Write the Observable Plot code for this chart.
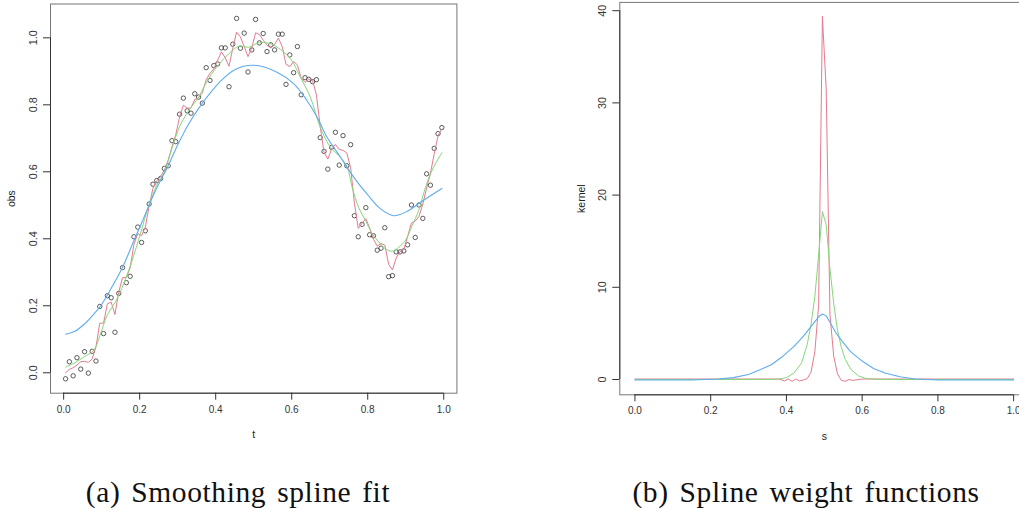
<!DOCTYPE html>
<html>
<head>
<meta charset="utf-8">
<script src="https://cdn.jsdelivr.net/npm/d3@7"></script>
<script src="https://cdn.jsdelivr.net/npm/@observablehq/plot@0.6"></script>
<style>
  html, body { margin: 0; padding: 0; background: #fff; }
  body { width: 1019px; height: 510px; overflow: hidden; position: relative; font-family: "Liberation Sans", Arial, sans-serif; }
  .panel { position: absolute; top: 0; width: 470px; height: 445px; }
  .panel svg { max-width: none !important; width: 470px; height: 445px; }
  .cap { position: absolute; top: 476px; height: 32px; line-height: 32px; text-align: center;
         font-family: "Liberation Serif", "Times New Roman", serif; font-size: 29.5px; color: #111;
         white-space: nowrap; letter-spacing: 0.6px; word-spacing: 3px; }
</style>
</head>
<body>
<div id="pa" class="panel" style="left:0px"></div>
<div id="pb" class="panel" style="left:570px"></div>
<div class="cap" style="left:38px;width:400px">(a) Smoothing spline fit</div>
<div class="cap" style="left:606px;width:400px">(b) Spline weight functions</div>
<script>
// ---------- Panel (a): observations and three smoothing-spline fits ----------
const tObs = [0.005,0.015,0.025,0.035,0.045,0.055,0.065,0.075,0.085,0.095,
  0.105,0.115,0.125,0.135,0.145,0.155,0.165,0.175,0.185,0.195,
  0.205,0.215,0.225,0.235,0.245,0.255,0.265,0.275,0.285,0.295,
  0.305,0.315,0.325,0.335,0.345,0.355,0.365,0.375,0.385,0.395,
  0.405,0.415,0.425,0.435,0.445,0.455,0.465,0.475,0.485,0.495,
  0.505,0.515,0.525,0.535,0.545,0.555,0.565,0.575,0.585,0.595,
  0.605,0.615,0.625,0.635,0.645,0.655,0.665,0.675,0.685,0.695,
  0.705,0.715,0.725,0.735,0.745,0.755,0.765,0.775,0.785,0.795,
  0.805,0.815,0.825,0.835,0.845,0.855,0.865,0.875,0.885,0.895,
  0.905,0.915,0.925,0.935,0.945,0.955,0.965,0.975,0.985,0.995];
const obs = [-0.018,0.033,-0.009,0.045,0.011,0.063,-0.001,0.064,0.035,0.198,
  0.117,0.230,0.224,0.121,0.237,0.314,0.269,0.288,0.406,0.435,
  0.389,0.424,0.504,0.563,0.574,0.580,0.610,0.618,0.693,0.690,
  0.772,0.820,0.782,0.775,0.833,0.823,0.805,0.911,0.873,0.917,
  0.922,0.970,0.970,0.854,0.981,1.058,0.969,1.014,0.898,0.964,
  1.055,0.985,1.013,0.959,0.979,0.964,1.011,1.011,0.861,0.949,
  0.896,0.974,0.830,0.881,0.876,0.869,0.875,0.702,0.661,0.608,
  0.673,0.718,0.620,0.708,0.618,0.681,0.469,0.406,0.443,0.493,
  0.412,0.409,0.366,0.372,0.433,0.287,0.290,0.361,0.361,0.364,
  0.382,0.501,0.404,0.501,0.461,0.594,0.560,0.670,0.714,0.732];
// red fit (small smoothing parameter), read at each t
const fitRed = [0.000,0.010,0.015,0.023,0.033,0.034,0.031,0.041,0.077,0.148,
  0.148,0.206,0.211,0.174,0.241,0.284,0.285,0.313,0.384,0.416,
  0.409,0.435,0.499,0.551,0.573,0.586,0.605,0.635,0.674,0.711,
  0.764,0.799,0.790,0.791,0.816,0.821,0.836,0.875,0.894,0.907,
  0.933,0.958,0.941,0.915,0.969,1.017,1.003,0.974,0.944,0.970,
  1.015,1.010,0.993,0.978,0.970,0.980,0.999,0.974,0.921,0.914,
  0.929,0.919,0.879,0.867,0.876,0.872,0.830,0.735,0.658,0.638,
  0.668,0.682,0.667,0.664,0.656,0.612,0.506,0.431,0.446,0.460,
  0.432,0.399,0.378,0.386,0.381,0.324,0.307,0.343,0.362,0.368,
  0.407,0.447,0.453,0.467,0.504,0.552,0.596,0.654,0.708,0.728];
// green fit (medium smoothing)
const tGreen = [0.005,0.03,0.053,0.079,0.097,0.114,0.136,0.158,0.18,0.202,0.224,0.245,0.265,0.285,0.305,
  0.329,0.355,0.382,0.408,0.434,0.461,0.487,0.513,0.54,0.562,0.597,0.623,0.649,0.675,0.702,0.728,
  0.746,0.759,0.776,0.794,0.812,0.829,0.847,0.864,0.882,0.899,0.917,0.934,0.952,0.969,0.995];
const fitGreen = [0.017,0.03,0.047,0.067,0.116,0.171,0.211,0.266,0.335,0.415,0.5,0.56,0.6,0.67,0.735,
  0.783,0.823,0.88,0.92,0.952,0.975,0.972,0.985,0.984,0.972,0.937,0.882,0.823,0.733,0.673,0.644,
  0.614,0.554,0.494,0.455,0.415,0.39,0.37,0.363,0.375,0.395,0.44,0.484,0.554,0.604,0.657];
// blue fit (large smoothing)
const tBlue = [0.005,0.03,0.055,0.08,0.1,0.13,0.155,0.185,0.21,0.24,0.275,0.3,0.33,0.365,0.41,0.45,0.5,
  0.56,0.605,0.64,0.667,0.693,0.728,0.763,0.798,0.833,0.868,0.904,0.939,0.995];
const fitBlue = [0.115,0.124,0.146,0.176,0.204,0.262,0.315,0.395,0.46,0.54,0.618,0.68,0.745,0.805,0.867,0.905,0.918,
  0.898,0.863,0.813,0.763,0.703,0.644,0.584,0.534,0.49,0.469,0.482,0.509,0.55];
const ticksA_x = [0, 0.2, 0.4, 0.6, 0.8, 1.0];
const ticksA_y = [0, 0.2, 0.4, 0.6, 0.8, 1.0];

// ---------- Panel (b): spline weight functions ----------
const sRed = [0,0.3,0.38,0.395,0.405,0.415,0.425,0.435,0.445,0.455,0.465,0.475,0.485,0.495,0.505,0.515,0.525,0.535,0.545,0.555,0.565,0.575,0.6,0.7,1.0];
const kRed = [0.05,0.05,0.05,-0.15,0.05,-0.2,0.05,-0.15,-0.05,0.1,0.8,3.0,8.0,39.4,31.5,7.0,2.5,0.6,-0.1,-0.2,0.0,-0.1,0.05,0.05,0.05];
const sGreen = [0,0.36,0.38,0.40,0.42,0.44,0.455,0.465,0.475,0.485,0.495,0.505,0.515,0.525,0.535,0.545,0.555,0.57,0.59,0.61,0.65,1.0];
const kGreen = [0.0,0.0,0.05,0.2,0.7,1.8,3.8,6.0,9.0,13.5,18.2,16.8,12.0,8.2,5.3,3.5,2.2,1.1,0.4,0.1,0.0,0.0];
const sBlue = [0,0.15,0.22,0.26,0.3,0.33,0.36,0.39,0.42,0.445,0.47,0.485,0.495,0.505,0.515,0.53,0.55,0.57,0.6,0.63,0.66,0.7,0.74,0.8,1.0];
const kBlue = [-0.05,-0.05,0.05,0.2,0.55,1.05,1.6,2.5,3.6,4.7,6.0,6.8,7.1,6.9,6.2,5.1,4.0,3.0,2.0,1.2,0.7,0.3,0.05,-0.05,-0.05];
const ticksB_x = [0, 0.2, 0.4, 0.6, 0.8, 1.0];
const ticksB_y = [0, 10, 20, 30, 40];

const RED = "#e57a8e", GREEN = "#86d67a", BLUE = "#5eacee";
const FONT = "'Liberation Sans', Arial, sans-serif";
const f1 = d3.format(".1f");

function axesMarks(xt, yt, yfmt, xTitle, yTitle, xDom, yDom) {
  return [
    Plot.frame({stroke: "#777", strokeWidth: 1}),
    Plot.ruleY([yDom[0]], {x1: xt[0], x2: xt[xt.length - 1], stroke: "#333"}),
    Plot.ruleX([xDom[0]], {y1: yt[0], y2: yt[yt.length - 1], stroke: "#333"}),
    Plot.axisX({ticks: xt, tickSize: 7, tickPadding: 5.5, tickFormat: f1, label: null, stroke: "#333", fill: "#333", fontSize: 10}),
    Plot.axisY({ticks: yt, tickSize: 7, tickFormat: () => "", label: null, stroke: "#333"}),
    Plot.text(yt, {y: d => d, text: yfmt, frameAnchor: "left", dx: -17, rotate: -90, textAnchor: "middle", lineAnchor: "middle", fill: "#333", fontSize: 10.8}),
    Plot.text([xTitle], {frameAnchor: "bottom", text: d => d, dy: 41.5, lineAnchor: "middle", fill: "#222", fontSize: 10.5}),
    Plot.text([yTitle], {frameAnchor: "left", text: d => d, dx: -38.5, rotate: -90, textAnchor: "middle", lineAnchor: "middle", fill: "#222", fontSize: 10.5})
  ];
}

const xDomA = [-0.0346, 1.0346], yDomA = [-0.061, 1.101];
const plotA = Plot.plot({
  width: 470, height: 445,
  marginLeft: 50, marginRight: 13.6, marginTop: 3.5, marginBottom: 52.3,
  x: {domain: xDomA, axis: null},
  y: {domain: yDomA, axis: null},
  style: {fontFamily: FONT, background: "white", overflow: "visible", maxWidth: "none"},
  marks: [
    ...axesMarks(ticksA_x, ticksA_y, f1, "t", "obs", xDomA, yDomA),
    Plot.dot(obs, {x: tObs, y: obs, r: 2.2, stroke: "#333", strokeWidth: 0.8, fill: "none"}),
    Plot.line(fitRed, {x: tObs, y: fitRed, stroke: RED, strokeWidth: 1}),
    Plot.line(fitGreen, {x: tGreen, y: fitGreen, stroke: GREEN, strokeWidth: 1, curve: "catmull-rom"}),
    Plot.line(fitBlue, {x: tBlue, y: fitBlue, stroke: BLUE, strokeWidth: 1.1, curve: "catmull-rom"})
  ]
});
document.getElementById("pa").append(plotA);

const xDomB = [-0.04, 1.04], yDomB = [-1.66, 40.9];
const plotB = Plot.plot({
  width: 470, height: 445,
  marginLeft: 49.3, marginRight: 11.7, marginTop: 1.9, marginBottom: 50.7,
  x: {domain: xDomB, axis: null},
  y: {domain: yDomB, axis: null},
  style: {fontFamily: FONT, background: "white", overflow: "visible", maxWidth: "none"},
  marks: [
    ...axesMarks(ticksB_x, ticksB_y, d3.format("d"), "s", "kernel", xDomB, yDomB),
    Plot.line(kRed, {x: sRed, y: kRed, stroke: RED, strokeWidth: 1}),
    Plot.line(kGreen, {x: sGreen, y: kGreen, stroke: GREEN, strokeWidth: 1}),
    Plot.line(kBlue, {x: sBlue, y: kBlue, stroke: BLUE, strokeWidth: 1.1})
  ]
});
document.getElementById("pb").append(plotB);
</script>
</body>
</html>
